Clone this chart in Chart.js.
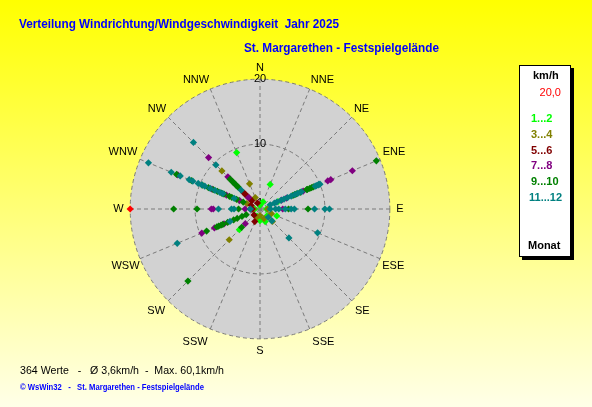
<!DOCTYPE html>
<html><head><meta charset="utf-8">
<script src="https://cdn.jsdelivr.net/npm/chart.js@4.4.0/dist/chart.umd.min.js"></script>
<style>
html,body{margin:0;padding:0;}
body{width:592px;height:407px;overflow:hidden;position:relative;background:linear-gradient(to bottom,#ffff00 0%,#ffffe8 100%);font-family:"Liberation Sans",Arial,sans-serif;}
#wrap{position:absolute;left:0;top:0;width:592px;height:407px;}
.t{position:absolute;white-space:nowrap;transform-origin:0 50%;line-height:14px;height:14px;}
#legend{position:absolute;left:519px;top:65px;width:50px;height:190px;background:#fff;border:1px solid #000;box-shadow:3px 3px 0 #000;}
.lg{position:absolute;white-space:nowrap;font-size:11px;line-height:14px;height:14px;font-weight:bold;}
</style></head><body>
<div id="wrap"><canvas id="c" width="592" height="407"></canvas></div>
<div class="t" id="title" style="left:19px;top:17px;font-size:13px;font-weight:bold;color:#0000ff;">Verteilung Windrichtung/Windgeschwindigkeit&nbsp; Jahr 2025</div>
<div class="t" id="sub" style="left:244px;top:41px;font-size:13px;font-weight:bold;color:#0000ff;">St. Margarethen - Festspielgelände</div>
<div class="t" id="stats" style="left:20px;top:363px;font-size:11px;color:#000;">364 Werte &nbsp; - &nbsp; Ø 3,6km/h &nbsp;- &nbsp;Max. 60,1km/h</div>
<div class="t" id="copy" style="left:20px;top:380px;font-size:9px;font-weight:bold;color:#0000ff;">© WsWin32 &nbsp; - &nbsp; St. Margarethen - Festspielgelände</div>
<div id="legend"></div>
<script>
// ---- categories ----
const directions = ['N','NNE','NE','ENE','E','ESE','SE','SSE','S','SSW','SW','WSW','W','WNW','NW','NNW'];
const tickValues = [0, 1, 10, 20];
const scaleMax = 20;
const groupLabels = ['1...2','3...4','5...6','7...8','9...10','11...12'];
const groupColors = ['#00ff00','#808000','#800000','#800080','#008000','#008080'];

// ---- series: wind direction / speed (km/h) per month group ----
const janFebDir   = ['NNW','NNE','SW','ESE','S','S','SSE','NNE','ENE','WNW','SE','E','SSW','W','N'];
const janFebSpeed = [9.4, 4.1, 4.5, 2.8, 1.8, 1.5, 2.1, 1.2, 3.0, 3.5, 1.5, 1.0, 1.2, 0.8, 0.6];

const marAprDir   = ['NW','NNW','SW','SE','SE','SSE','WNW','S','ESE','NNW','SSW','E','W'];
const marAprSpeed = [8.3, 4.2, 6.7, 2.7, 1.8, 1.6, 2.2, 1.0, 1.9, 1.9, 1.4, 1.2, 1.0];

const mayJunDir   = ['NW','NW','NW','NW','NW','NW','NW','SSW','W','WNW','SW','NNW'];
const mayJunSpeed = [3.6, 3.3, 3.0, 2.7, 2.4, 2.1, 1.8, 2.1, 1.2, 1.5, 1.3, 1.0];

const julAugDir   = ['NW','NW','WNW','WNW','WNW','WNW','W','W','W','WSW','WSW','WSW','SW','ENE','ENE','ENE','ENE','ENE','ENE','E','NW','W'];
const julAugSpeed = [11.2, 7.0, 13.7, 8.0, 5.6, 3.4, 7.5, 7.2, 2.3, 9.7, 7.6, 6.0, 3.2, 15.4, 11.8, 11.3, 7.2, 4.4, 3.6, 3.5, 2.5, 1.5];

const sepOctDir   = ['WNW','WNW','WNW','WNW','WNW','WNW','WNW','WNW','WNW','WNW','WNW','WNW',
                     'NW','NW','NW','NW','NW','NW','NW',
                     'W','W','W',
                     'WSW','WSW','WSW','WSW','WSW','WSW','WSW','WSW','WSW','WSW',
                     'SW','SW',
                     'ENE','ENE','ENE','ENE','ENE','ENE','ENE','ENE','ENE','ENE',
                     'E','E'];
const sepOctSpeed = [13.9, 11.4, 9.6, 8.6, 7.8, 7.1, 6.4, 6.0, 5.1, 4.7, 3.9, 2.8,
                     6.5, 6.1, 5.8, 5.5, 5.2, 4.9, 4.7,
                     13.3, 9.7, 3.3,
                     8.9, 7.2, 6.9, 6.5, 6.2, 5.4, 4.4, 3.8, 3.0, 2.3,
                     15.7, 4.0,
                     19.4, 8.9, 8.6, 8.3, 7.9, 7.8, 6.7, 6.1, 5.8, 5.5,
                     4.4, 7.4];

const novDecDir   = ['WNW','WNW','WNW','WNW','WNW','WNW','WNW','WNW','WNW','WNW','WNW','WNW','WNW',
                     'NW','NW','NW',
                     'W','W','W','W',
                     'WSW','WSW',
                     'ENE','ENE','ENE','ENE','ENE','ENE','ENE','ENE','ENE','ENE','ENE','ENE','ENE','ENE','ENE',
                     'E','E','E','E','E','E','E','E','E',
                     'ESE','SE','SE','SE'];
const novDecSpeed = [18.6, 14.8, 13.3, 11.8, 11.2, 10.3, 9.7, 9.2, 8.3, 7.5, 6.7, 6.2, 4.3,
                     14.5, 9.6, 4.1,
                     6.4, 4.4, 4.0, 1.5,
                     13.8, 5.0,
                     10.0, 9.8, 9.7, 9.4, 9.2, 6.9, 6.3, 5.8, 5.2, 4.6, 4.0, 3.5, 2.8, 2.4, 1.7,
                     1.6, 2.4, 2.9, 3.9, 4.8, 5.3, 8.4, 10.0, 10.7,
                     9.6, 6.3, 2.6, 1.8];

const limitDir = ['W'];
const limitSpeed = [20.0];
const limitColor = '#ff0000';

const groupDirs = [janFebDir, marAprDir, mayJunDir, julAugDir, sepOctDir, novDecDir];
const groupSpeeds = [janFebSpeed, marAprSpeed, mayJunSpeed, julAugSpeed, sepOctSpeed, novDecSpeed];

// ---- build radar datasets: one "layer" per repeated direction ----
function layers(dirs, speeds, color) {
  const out = [];
  const count = {};
  dirs.forEach((d, i) => {
    const k = count[d] || 0; count[d] = k + 1;
    if (!out[k]) out[k] = directions.map(() => null);
    out[k][directions.indexOf(d)] = speeds[i];
  });
  return out.map(data => ({
    data, showLine: false, fill: false,
    pointStyle: 'rectRot', pointRadius: 3.6, pointBorderWidth: 0,
    pointBackgroundColor: color, pointBorderColor: color,
    borderColor: color, backgroundColor: color
  }));
}
let datasets = [];
datasets = datasets.concat(layers(limitDir, limitSpeed, limitColor));
for (let g = groupDirs.length - 1; g >= 0; g--) {
  datasets = datasets.concat(layers(groupDirs[g], groupSpeeds[g], groupColors[g]));
}

const discPlugin = {
  id: 'disc',
  beforeDraw(chart) {
    const s = chart.scales.r, ctx = chart.ctx;
    ctx.save();
    ctx.beginPath();
    ctx.arc(s.xCenter, s.yCenter, s.getDistanceFromCenterForValue(scaleMax), 0, Math.PI * 2);
    ctx.fillStyle = '#d2d2d2';
    ctx.fill();
    ctx.restore();
  }
};

// label gap tweaks (library adds its own tick-backdrop offset)
const labelPads = [-2.5, -4.5, -4.5, -4.5, -1, -5, -3, -0.5, -2, -0.5, -3, -7, -1, -4.5, -4.5, -4.5];
function labelPad(ctx) { return labelPads[ctx.index]; }

const chart = new Chart(document.getElementById('c'), {
  type: 'radar',
  data: { labels: directions, datasets },
  options: {
    responsive: false, animation: false, events: [],
    layout: { padding: { left: 105, right: 183, top: 58, bottom: 45 } },
    plugins: { legend: { display: false }, tooltip: { enabled: false } },
    scales: {
      r: {
        min: 0, max: scaleMax,
        afterBuildTicks(scale) { scale.ticks = tickValues.map(v => ({ value: v })); },
        ticks: { display: true, showLabelBackdrop: false, color: '#000', font: { size: 11, family: 'Liberation Sans' } },
        grid: { circular: true, color: '#7a7a7a', lineWidth: 1 },
        border: { dash: [4, 3] },
        angleLines: { display: true, color: '#7a7a7a', lineWidth: 1, borderDash: [4, 3] },
        pointLabels: { display: true, color: '#000', padding: labelPad, font: { size: 11, family: 'Liberation Sans' } }
      }
    }
  },
  plugins: [discPlugin]
});

// legend box (HTML)
const lg = document.getElementById('legend');
function addLg(text, color, top, left, bold, right) {
  const d = document.createElement('div');
  d.className = 'lg'; d.textContent = text; d.style.color = color;
  d.style.top = (top - 66 - 7) + 'px';
  if (right !== undefined) d.style.right = right + 'px'; else d.style.left = (left - 520) + 'px';
  if (!bold) d.style.fontWeight = 'normal';
  lg.appendChild(d);
}
addLg('km/h', '#000', 75, 533, true);
addLg('20,0', limitColor, 92, 0, false, 9);
const lgY = [118, 134, 149.5, 165, 181, 197];
groupLabels.forEach((t, i) => addLg(t, groupColors[i], lgY[i], i === 5 ? 529 : 531, true));
addLg('Monat', '#000', 245, 528, true);

// fit text widths to reference
function fitW(id, w) { const e = document.getElementById(id); const cw = e.getBoundingClientRect().width; e.style.transform = 'scaleX(' + (w / cw) + ')'; }
fitW('title', 320); fitW('sub', 195); fitW('stats', 204); fitW('copy', 184);
</script>
</body></html>
